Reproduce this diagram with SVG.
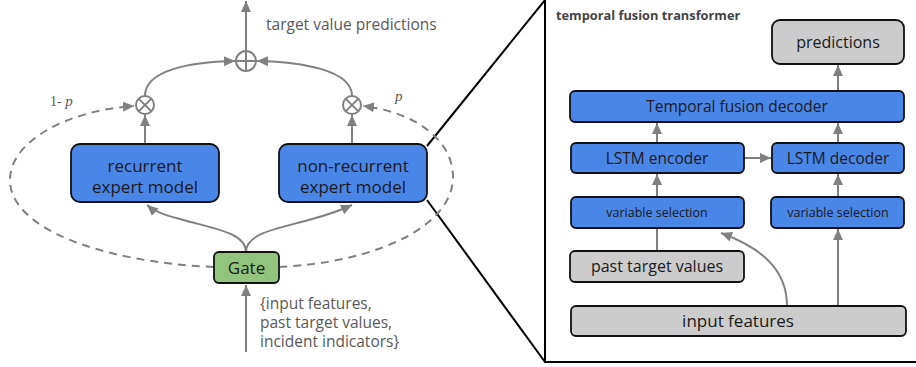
<svg xmlns="http://www.w3.org/2000/svg" width="916" height="367" viewBox="0 0 916 367">
<style>
.blue{fill:#4a86e8;stroke:#111;stroke-width:1.8}
.gray{fill:#cccccc;stroke:#111;stroke-width:1.8}
.green{fill:#93c47d;stroke:#111;stroke-width:1.8}
.t{font-family:"Open Sans","Noto Sans",sans-serif;fill:#1a1a1a;text-anchor:middle}
.lbl{font-family:"Open Sans","Noto Sans",sans-serif;fill:#595959}
.c{fill:none;stroke:#808080;stroke-width:2}
.d{fill:none;stroke:#808080;stroke-width:2;stroke-dasharray:8,6}
.k{fill:none;stroke:#000;stroke-width:2}
</style>
<defs>
<marker id="a" markerUnits="userSpaceOnUse" markerWidth="12" markerHeight="12" viewBox="0 0 12 12" refX="11" refY="6" orient="auto">
<path d="M0,1 L11,6 L0,11 z" fill="#808080"/>
</marker>
</defs>
<rect x="545" y="-3" width="380" height="365" class="k"/>
<line x1="427" y1="146" x2="545" y2="0" class="k"/>
<line x1="427" y1="200" x2="545" y2="362" class="k"/>
<g id="connectors">
<line x1="246" y1="51" x2="246" y2="1" class="c" marker-end="url(#a)"/>
<path d="M145,96 C145,70 190,62 235,61" class="c" marker-end="url(#a)"/>
<path d="M352,96 C352,70 302,62 257,61" class="c" marker-end="url(#a)"/>
<line x1="145" y1="144" x2="145" y2="115" class="c" marker-end="url(#a)"/>
<line x1="352" y1="144" x2="352" y2="115" class="c" marker-end="url(#a)"/>
<path d="M246,252 C246,232 210,228 180,219 C165,215 155,212 147,205" class="c" marker-end="url(#a)"/>
<path d="M246,252 C246,232 282,228 312,219 C327,215 337,212 352,205" class="c" marker-end="url(#a)"/>
<line x1="246" y1="352" x2="246" y2="285" class="c" marker-end="url(#a)"/>
<path d="M214,267 C100,262 10,228 10,180 C10,140 70,110 134,106" class="d" marker-end="url(#a)"/>
<path d="M279,267 C380,262 453,225 453,177 C453,140 415,112 363,106" class="d" marker-end="url(#a)"/>
<line x1="838" y1="91" x2="838" y2="65" class="c" marker-end="url(#a)"/>
<line x1="657" y1="143" x2="657" y2="123" class="c" marker-end="url(#a)"/>
<line x1="838" y1="143" x2="838" y2="123" class="c" marker-end="url(#a)"/>
<line x1="744" y1="158" x2="771" y2="158" class="c" marker-end="url(#a)"/>
<line x1="657" y1="197" x2="657" y2="174" class="c" marker-end="url(#a)"/>
<line x1="838" y1="197" x2="838" y2="174" class="c" marker-end="url(#a)"/>
<line x1="657" y1="251" x2="657" y2="228" class="c"/>
<line x1="838" y1="306" x2="838" y2="229" class="c" marker-end="url(#a)"/>
<path d="M787,306 C787,270 762,248 721,233" class="c" marker-end="url(#a)"/>
</g>
<g id="plus">
<circle cx="246" cy="61" r="10" fill="#fff" stroke="#808080" stroke-width="2"/>
<line x1="236" y1="61" x2="256" y2="61" stroke="#808080" stroke-width="2"/>
<line x1="246" y1="51" x2="246" y2="71" stroke="#808080" stroke-width="2"/>
</g>
<g id="times-left">
<circle cx="145" cy="105" r="9" fill="#fff" stroke="#808080" stroke-width="2"/>
<path d="M138.6,98.6 L151.4,111.4 M151.4,98.6 L138.6,111.4" stroke="#808080" stroke-width="2"/>
</g>
<g id="times-right">
<circle cx="352" cy="105" r="9" fill="#fff" stroke="#808080" stroke-width="2"/>
<path d="M345.6,98.6 L358.4,111.4 M358.4,98.6 L345.6,111.4" stroke="#808080" stroke-width="2"/>
</g>
<text x="266" y="30" class="lbl" font-size="15.5">target value predictions</text>
<text x="50" y="106" font-family="Liberation Serif,serif" font-size="14" fill="#595959">1- <tspan font-style="italic" font-size="15">p</tspan></text>
<text x="395" y="101" font-family="Liberation Serif,serif" font-size="15" font-style="italic" fill="#595959">p</text>
<g id="recurrent">
<rect x="71" y="144" width="148" height="58" rx="9" class="blue"/>
<text class="t" font-size="17" x="145" y="172">recurrent</text>
<text class="t" font-size="17" x="145" y="193">expert model</text>
</g>
<g id="nonrecurrent">
<rect x="279" y="144" width="148" height="58" rx="9" class="blue"/>
<text class="t" font-size="17" x="353" y="172">non-recurrent</text>
<text class="t" font-size="17" x="353" y="193">expert model</text>
</g>
<g id="gate">
<rect x="214" y="252" width="65" height="31" rx="5" class="green"/>
<text class="t" font-size="17" x="246.5" y="274">Gate</text>
</g>
<text class="lbl" font-size="15.5" x="260" y="309">{input features,</text>
<text class="lbl" font-size="15.5" x="260" y="328">past target values,</text>
<text class="lbl" font-size="15.5" x="260" y="347">incident indicators}</text>
<text x="556" y="20" font-family="Open Sans,Noto Sans,sans-serif" font-weight="bold" font-size="12.8" fill="#444">temporal fusion transformer</text>
<g id="predictions">
<rect x="772" y="20" width="132" height="44" rx="8" class="gray"/>
<text class="t" font-size="16" x="838" y="48">predictions</text>
</g>
<g id="tfd">
<rect x="570" y="91" width="334" height="31" rx="5" class="blue"/>
<text class="t" font-size="15.5" x="737" y="112">Temporal fusion decoder</text>
</g>
<g id="lstm-enc">
<rect x="571" y="143" width="173" height="30" rx="5" class="blue"/>
<text class="t" font-size="15.5" x="657" y="164">LSTM encoder</text>
</g>
<g id="lstm-dec">
<rect x="772" y="143" width="132" height="30" rx="5" class="blue"/>
<text class="t" font-size="15.5" x="838" y="164">LSTM decoder</text>
</g>
<g id="vs-left">
<rect x="571" y="197" width="173" height="31" rx="5" class="blue"/>
<text class="t" font-size="12.5" x="657" y="217">variable selection</text>
</g>
<g id="vs-right">
<rect x="771" y="197" width="133" height="31" rx="5" class="blue"/>
<text class="t" font-size="12.5" x="838" y="217">variable selection</text>
</g>
<g id="past">
<rect x="570" y="251" width="174" height="31" rx="5" class="gray"/>
<text class="t" font-size="16" x="657" y="272">past target values</text>
</g>
<g id="input">
<rect x="571" y="306" width="335" height="30" rx="5" class="gray"/>
<text class="t" font-size="17" x="738" y="327">input features</text>
</g>
</svg>
